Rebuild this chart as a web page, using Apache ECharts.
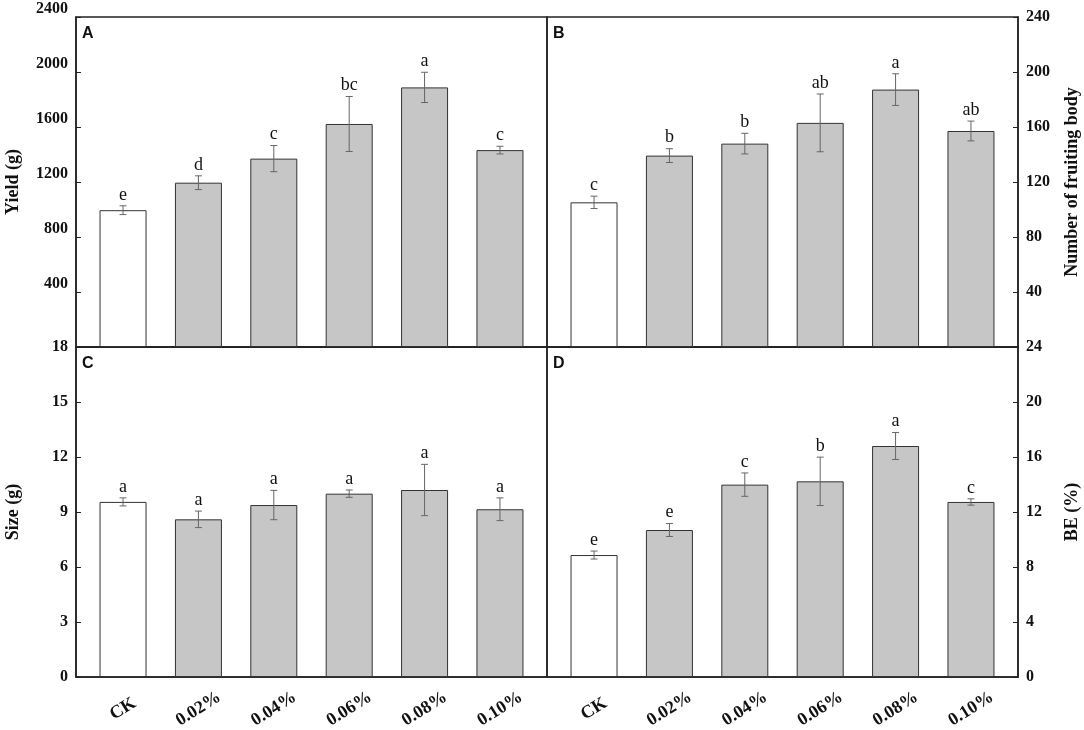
<!DOCTYPE html>
<html>
<head>
<meta charset="utf-8">
<script src="https://cdn.jsdelivr.net/npm/echarts@6/dist/echarts.min.js"></script>
<style>
    html, body { margin: 0; padding: 0; background: #fff; }
    #main { width: 1084px; height: 730px; }
</style>
</head>
<body>
<div id="main"></div>
<script>
var categories = ['CK', '0.02%', '0.04%', '0.06%', '0.08%', '0.10%'];

// A - yield (g)
var yieldMean = [995, 1195, 1370, 1622, 1888, 1432];
var yieldErr = [32, 50, 95, 200, 110, 28];
var yieldSig = ['e', 'd', 'c', 'bc', 'a', 'c'];
var yieldTicks = [0, 2400, 400];

// B - number of fruiting body
var fruitMean = [105.2, 139.2, 147.9, 163, 187.2, 157.1];
var fruitErr = [4.5, 5, 7.5, 21, 11.5, 7.2];
var fruitSig = ['c', 'b', 'b', 'ab', 'a', 'ab'];
var fruitTicks = [0, 240, 40];

// C - size (g)
var sizeMean = [9.55, 8.6, 9.38, 10.0, 10.2, 9.15];
var sizeErr = [0.22, 0.45, 0.8, 0.2, 1.4, 0.62];
var sizeSig = ['a', 'a', 'a', 'a', 'a', 'a'];
var sizeTicks = [0, 18, 3];

// D - BE (%)
var beMean = [8.87, 10.69, 13.99, 14.23, 16.8, 12.73];
var beErr = [0.29, 0.47, 0.85, 1.76, 0.98, 0.23];
var beSig = ['e', 'e', 'c', 'b', 'a', 'c'];
var beTicks = [0, 24, 4];

var serif = '"Liberation Serif", "Times New Roman", serif';
var chart = echarts.init(document.getElementById('main'));

var panels = [
    {mean: yieldMean, err: yieldErr, sig: yieldSig, ticks: yieldTicks, name: 'Yield (g)', side: 'left', bottom: false, letter: 'A', hideMin: true, lift: true},
    {mean: fruitMean, err: fruitErr, sig: fruitSig, ticks: fruitTicks, name: 'Number of fruiting body', side: 'right', bottom: false, letter: 'B', hideMin: true},
    {mean: sizeMean, err: sizeErr, sig: sizeSig, ticks: sizeTicks, name: 'Size (g)', side: 'left', bottom: true, letter: 'C'},
    {mean: beMean, err: beErr, sig: beSig, ticks: beTicks, name: 'BE (%)', side: 'right', bottom: true, letter: 'D'}
];
var gridPos = [[76, 17], [547, 17], [76, 347], [547, 347]];

var grids = [], xAxes = [], yAxes = [], series = [], graphics = [];

panels.forEach(function (p, k) {
    grids.push({
        left: gridPos[k][0], top: gridPos[k][1], width: 471, height: 330,
        containLabel: false, outerBoundsMode: 'none',
        show: true, borderColor: '#222', borderWidth: 1.5, backgroundColor: 'transparent'
    });
    xAxes.push({
        gridIndex: k,
        type: 'value',
        min: -0.624,
        max: 5.624,
        axisLine: {show: true, onZero: false, lineStyle: {color: '#222', width: 1.5}},
        axisTick: {show: false},
        splitLine: {show: false},
        axisLabel: {
            show: p.bottom,
            customValues: [0, 1, 2, 3, 4, 5],
            rotate: 32,
            align: 'center',
            verticalAlign: 'middle',
            margin: 32,
            fontFamily: serif,
            fontWeight: 'bold',
            fontSize: 18,
            color: '#111',
            formatter: function (v) { return categories[Math.round(v)]; }
        }
    });
    yAxes.push({
        gridIndex: k,
        type: 'value',
        position: p.side,
        min: p.ticks[0],
        max: p.ticks[1],
        interval: p.ticks[2],
        name: p.name,
        nameLocation: 'middle',
        nameRotate: 90,
        nameGap: p.side === 'left' ? 54 : 45,
        nameTextStyle: {fontFamily: serif, fontWeight: 'bold', fontSize: 18, color: '#111'},
        axisLine: {show: true, onZero: false, lineStyle: {color: '#222', width: 1.5}},
        axisTick: {show: true, inside: true, length: 5, lineStyle: {color: '#222'}},
        splitLine: {show: false},
        axisLabel: {
            showMinLabel: !p.hideMin,
            margin: 8,
            verticalAlign: p.lift ? 'bottom' : 'middle',
            fontFamily: serif,
            fontWeight: 'bold',
            fontSize: 16,
            color: '#111',
            formatter: function (v) { return String(v); }
        }
    });
    series.push({
        type: 'bar',
        xAxisIndex: k,
        yAxisIndex: k,
        barWidth: 47,
        data: p.mean.map(function (m, i) {
            return {
                value: [i, m],
                itemStyle: {color: i === 0 ? '#ffffff' : '#c6c6c6'}
            };
        }),
        itemStyle: {borderColor: '#333', borderWidth: 1},
        z: 2
    });
    series.push({
        type: 'custom',
        xAxisIndex: k,
        yAxisIndex: k,
        z: 3,
        data: p.mean.map(function (m, i) { return [i, m, p.err[i]]; }),
        encode: {x: 0, y: 1},
        renderItem: function (params, api) {
            var i = api.value(0), m = api.value(1), e = api.value(2);
            var top = api.coord([i, m + e]);
            var bot = api.coord([i, m - e]);
            var cap = 3.5;
            var st = {stroke: '#666', lineWidth: 1};
            return {
                type: 'group',
                children: [
                    {type: 'line', shape: {x1: top[0], y1: top[1], x2: bot[0], y2: bot[1]}, style: st},
                    {type: 'line', shape: {x1: top[0] - cap, y1: top[1], x2: top[0] + cap, y2: top[1]}, style: st},
                    {type: 'line', shape: {x1: bot[0] - cap, y1: bot[1], x2: bot[0] + cap, y2: bot[1]}, style: st},
                    {
                        type: 'text',
                        style: {
                            text: p.sig[params.dataIndex],
                            x: top[0], y: top[1] - 2,
                            align: 'center', verticalAlign: 'bottom',
                            fontFamily: serif, fontSize: 18, fill: '#111'
                        }
                    }
                ]
            };
        }
    });
    graphics.push({
        type: 'text',
        left: gridPos[k][0] + 6,
        top: gridPos[k][1] + 9,
        style: {
            text: p.letter,
            fontFamily: '"Liberation Sans", Arial, sans-serif',
            fontWeight: 'bold',
            fontSize: 16,
            fill: '#111'
        }
    });
});

var option = {
    backgroundColor: '#fff',
    animation: false,
    grid: grids,
    xAxis: xAxes,
    yAxis: yAxes,
    series: series,
    graphic: graphics
};
chart.setOption(option);
</script>
</body>
</html>
